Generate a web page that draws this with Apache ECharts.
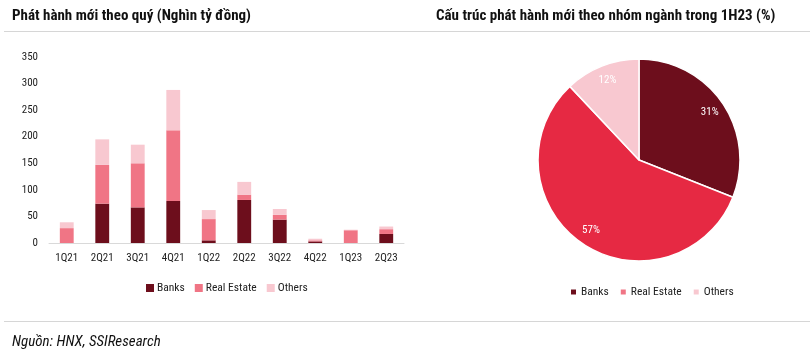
<!DOCTYPE html>
<html><head><meta charset="utf-8">
<script src="https://cdn.jsdelivr.net/npm/echarts@6/dist/echarts.min.js"></script>
<style>html,body{margin:0;padding:0;background:#fff}#c{width:810px;height:356px}</style>
</head><body><div id="c"></div>
<script>
const categories = ['1Q21','2Q21','3Q21','4Q21','1Q22','2Q22','3Q22','4Q22','1Q23','2Q23'];
const banks      = [0, 74, 67, 79, 5, 81, 44, 3, 0, 17];
const realEstate = [28, 73, 83, 133, 40, 10, 9, 2, 24, 9];
const others     = [11, 48, 35, 76, 17, 24, 11, 3, 1, 5];
const yTicks = [0, 50, 100, 150, 200, 250, 300, 350];
const pieNames = ['Banks', 'Real Estate', 'Others'];
const pieValues = [31, 57, 12];

const FONT = 'Roboto, "Liberation Sans", sans-serif';
const COND = 'condensed';
const cBank = '#6d0e1c', cRE = '#f07585', cOth = '#f8c8d0', cRE2 = '#e62943';
const lbl = {fontFamily: FONT, fontStyle: COND, fontSize: 11, color: '#222'};

const chart = echarts.init(document.getElementById('c'), null, {renderer: 'canvas'});
const pieData = pieNames.map((n, i) => ({name: n, value: pieValues[i]}));
chart.setOption({
  animation: false,
  textStyle: {fontFamily: FONT},
  title: [
    {text: 'Phát hành mới theo quý (Nghìn tỷ đồng)', left: 7, top: 4,
     textStyle: {fontFamily: FONT, fontStyle: COND, fontWeight: 'bold', fontSize: 15, color: '#111'}},
    {text: 'Cấu trúc phát hành mới theo nhóm ngành trong 1H23 (%)', left: 431, top: 4,
     textStyle: {fontFamily: FONT, fontStyle: COND, fontWeight: 'bold', fontSize: 15, color: '#111'}},
    {text: 'Nguồn: HNX, SSIResearch', left: 7, top: 330,
     textStyle: {fontFamily: FONT, fontStyle: 'italic ' + COND, fontWeight: 'normal', fontSize: 15, color: '#111'}}
  ],
  graphic: [
    {type: 'line', shape: {x1: 4, y1: 31.5, x2: 810, y2: 31.5}, style: {stroke: '#d6d6d6', lineWidth: 1}},
    {type: 'line', shape: {x1: 4, y1: 321.5, x2: 810, y2: 321.5}, style: {stroke: '#d6d6d6', lineWidth: 1}}
  ],
  legend: [
    {data: pieNames, left: 141, top: 277, itemWidth: 8, itemHeight: 8, itemGap: 10, icon: 'rect',
     textStyle: {...lbl, fontSize: 11.5, padding: [0, 0, 0, -2]}},
    {data: pieNames, left: 566, top: 281, itemWidth: 5, itemHeight: 5, itemGap: 12, icon: 'rect',
     textStyle: {...lbl, fontSize: 11.5}}
  ],
  grid: {left: 49, right: 406, top: 57, bottom: 113},
  xAxis: {type: 'category', data: categories,
    axisLine: {lineStyle: {color: '#d9d9d9'}}, axisTick: {show: false},
    axisLabel: {...lbl, margin: 10, interval: 0}},
  yAxis: {type: 'value', min: yTicks[0], max: yTicks[yTicks.length - 1], interval: 50,
    axisLine: {show: false}, axisTick: {show: false}, splitLine: {show: false},
    axisLabel: {...lbl, margin: 11}},
  series: [
    {name: 'Banks', type: 'bar', stack: 's', data: banks, barWidth: '39%', itemStyle: {color: cBank}},
    {name: 'Real Estate', type: 'bar', stack: 's', data: realEstate, itemStyle: {color: cRE}},
    {name: 'Others', type: 'bar', stack: 's', data: others, itemStyle: {color: cOth}},
    {name: 'pie', type: 'pie', center: [639, 160], radius: [0, 101], startAngle: 90, clockwise: true,
     legendHoverLink: false,
     data: pieData.map((d, i) => ({...d, itemStyle: {color: [cBank, cRE2, cOth][i]}})),
     itemStyle: {borderColor: '#fff', borderWidth: 1.5}, label: {show: false}, labelLine: {show: false}},
    {name: 'pieLabels', type: 'pie', center: [639, 160], radius: [64, 101], startAngle: 90, clockwise: true,
     silent: true, data: pieData, itemStyle: {color: 'rgba(0,0,0,0)'},
     label: {show: true, position: 'inside', formatter: '{c}%', ...lbl, color: '#fff'},
     labelLine: {show: false}}
  ]
});
</script></body></html>
